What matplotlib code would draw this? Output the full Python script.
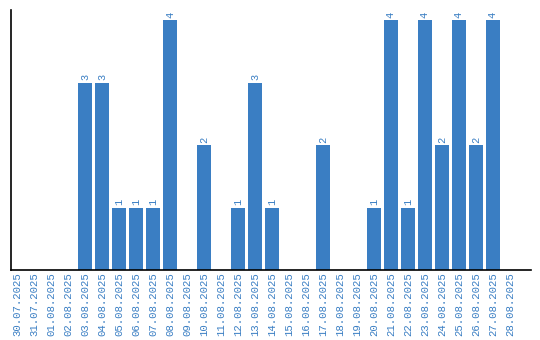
import matplotlib.pyplot as plt

dates = ['30.07.2025', '31.07.2025', '01.08.2025', '02.08.2025', '03.08.2025',
         '04.08.2025', '05.08.2025', '06.08.2025', '07.08.2025', '08.08.2025',
         '09.08.2025', '10.08.2025', '11.08.2025', '12.08.2025', '13.08.2025',
         '14.08.2025', '15.08.2025', '16.08.2025', '17.08.2025', '18.08.2025',
         '19.08.2025', '20.08.2025', '21.08.2025', '22.08.2025', '23.08.2025',
         '24.08.2025', '25.08.2025', '26.08.2025', '27.08.2025', '28.08.2025']
counts = [0, 0, 0, 0, 3, 3, 1, 1, 1, 4,
          0, 2, 0, 1, 3, 1, 0, 0, 2, 0,
          0, 1, 4, 1, 4, 2, 4, 2, 4, 0]

blue = '#3a7ec3'

fig = plt.figure(figsize=(5.4, 3.4), dpi=100)
ax = fig.add_axes([10.5 / 540, 70 / 340, 520.5 / 540, 260 / 340])

x = list(range(len(dates)))
ax.bar(x, counts, width=0.82, color=blue)

for xi, c in zip(x, counts):
    if c > 0:
        ax.annotate(str(c), (xi, c), xytext=(0, 1.5), textcoords='offset points',
                    rotation=90, ha='center', va='bottom', color=blue,
                    fontsize=7.5, family='Liberation Mono')

ax.set_xlim(-0.38, 30.24)
ax.set_ylim(0, 4.16)
ax.set_xticks(x)
ax.set_xticklabels(dates, rotation=90, color=blue, fontsize=7.7, family='Liberation Mono')
ax.tick_params(axis='x', length=0, pad=1.5)
ax.set_yticks([])
ax.spines['top'].set_visible(False)
ax.spines['right'].set_visible(False)
ax.spines['left'].set_linewidth(1.2)
ax.spines['bottom'].set_linewidth(1.2)

fig.savefig('out.png', dpi=100)
